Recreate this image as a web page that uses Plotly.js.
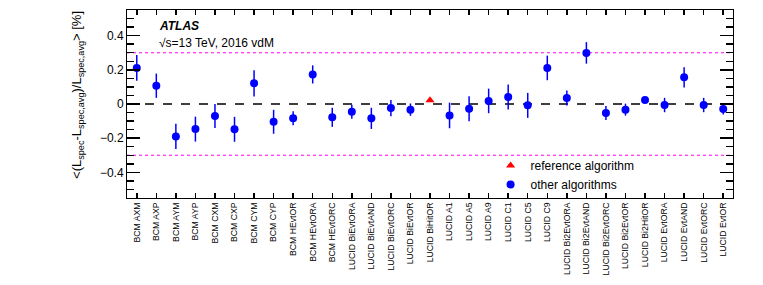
<!DOCTYPE html>
<html>
<head>
<meta charset="utf-8">
<script src="https://cdn.plot.ly/plotly-3.0.1.min.js"></script>
<style>html,body{margin:0;padding:0;background:#fff;}#chart{width:763px;height:285px;}</style>
</head>
<body>
<div id="chart"></div>
<script>
const categories = ["BCM AXM","BCM AXP","BCM AYM","BCM AYP","BCM CXM","BCM CXP","BCM CYM","BCM CYP",
  "BCM HEvtOR","BCM HEvtORA","BCM HEvtORC","LUCID BiEvtORA","LUCID BiEvtAND","LUCID BiEvtORC","LUCID BiEvtOR",
  "LUCID BiHitOR","LUCID A1","LUCID A5","LUCID A9","LUCID C1","LUCID C5","LUCID C9",
  "LUCID Bi2EvtORA","LUCID Bi2EvtAND","LUCID Bi2EvtORC","LUCID Bi2EvtOR","LUCID Bi2HitOR",
  "LUCID EvtORA","LUCID EvtAND","LUCID EvtORC","LUCID EvtOR"];
const values = [0.211,0.107,-0.190,-0.147,-0.070,-0.148,0.121,-0.104,
  -0.084,0.173,-0.078,-0.045,-0.084,-0.024,-0.033,
  0.022,-0.067,-0.028,0.018,0.041,-0.008,0.211,
  0.035,0.299,-0.053,-0.033,0.023,
  -0.006,0.156,-0.006,-0.029];
const errors = [0.075,0.071,0.074,0.073,0.070,0.073,0.077,0.070,
  0.041,0.053,0.056,0.041,0.062,0.047,0.036,
  0,0.075,0.073,0.072,0.073,0.073,0.072,
  0.044,0.063,0.041,0.035,0.018,
  0.042,0.059,0.042,0.033];
const referenceAlgorithm = "LUCID BiHitOR";
const yTickVals = [-0.4,-0.2,0,0.2,0.4];
const yTickText = ["\u22120.4","\u22120.2","0","0.2","0.4"];
const bandLevel = 0.3;

const otherX = [], otherY = [], otherE = [], refX = [], refY = [];
categories.forEach((c,i)=>{
  if (c === referenceAlgorithm) { refX.push(c); refY.push(values[i]); }
  else { otherX.push(c); otherY.push(values[i]); otherE.push(errors[i]); }
});

const FONT = "Liberation Sans, Arial, Helvetica, sans-serif";
const xLo = -0.5, xHi = categories.length - 0.5;

const traces = [
  {type:'scatter', mode:'markers', name:'reference algorithm', x:refX, y:refY,
   marker:{symbol:'triangle-up', color:'#ff0000', size:8}, cliponaxis:false},
  {type:'scatter', mode:'markers', name:'other algorithms', x:otherX, y:otherY,
   error_y:{type:'data', array:otherE, visible:true, color:'#0000ff', thickness:1.5, width:0},
   marker:{symbol:'circle', color:'#0000ff', size:8}}
];

const layout = {
  width:763, height:285,
  margin:{l:127, r:30, t:10, b:87},
  font:{family:FONT, color:'#000', size:12},
  showlegend:true,
  legend:{x:0.6, y:0.25, xanchor:'left', yanchor:'top', bgcolor:'rgba(0,0,0,0)',
          font:{family:FONT, size:12}, tracegroupgap:0, itemwidth:30},
  xaxis:{type:'category', categoryorder:'array', categoryarray:categories,
         range:[xLo, xHi], showline:true, linecolor:'#000', linewidth:1,
         mirror:'ticks', ticks:'inside', ticklen:5, tickcolor:'#000', tickwidth:1.5, tickangle:-90,
         tickfont:{family:FONT, size:8.7}, showgrid:false, zeroline:false, layer:'above traces'},
  yaxis:{range:[-0.55,0.55], tickvals:yTickVals, ticktext:yTickText,
         showline:true, linecolor:'#000', linewidth:1, mirror:'allticks',
         ticks:'inside', ticklen:13, tickcolor:'#000', tickwidth:1.5,
         minor:{dtick:0.05, tick0:0, ticks:'inside', ticklen:7, tickcolor:'#000', tickwidth:1.5, showgrid:false},
         tickfont:{family:FONT, size:12}, showgrid:false, zeroline:false, layer:'above traces'},
  shapes:[
    {type:'line', xref:'x', x0:xLo, x1:xHi, yref:'y', y0:0, y1:0, line:{color:'#000', width:1.5, dash:'dash'}, layer:'below'},
    {type:'line', xref:'x', x0:xLo, x1:xHi, yref:'y', y0:bandLevel, y1:bandLevel, line:{color:'#ff00ff', width:1.2, dash:'dot'}, layer:'below'},
    {type:'line', xref:'x', x0:xLo, x1:xHi, yref:'y', y0:-bandLevel, y1:-bandLevel, line:{color:'#ff00ff', width:1.2, dash:'dot'}, layer:'below'}
  ],
  annotations:[
    {xref:'paper', yref:'paper', x:0.05, y:0.867, xanchor:'left', yanchor:'bottom', showarrow:false,
     text:'<b><i>ATLAS</i></b>', font:{family:FONT, size:12}},
    {xref:'paper', yref:'paper', x:0.05, y:0.875, xanchor:'left', yanchor:'top', showarrow:false,
     text:'√s=13 TeV, 2016 vdM', font:{family:FONT, size:12}},
    {xref:'paper', yref:'paper', x:-0.081, y:0.548, xanchor:'center', yanchor:'middle', showarrow:false,
     textangle:-90,
     text:'&lt;(L<sub>spec</sub>-L<sub>spec,avg</sub>)/L<sub>spec,avg</sub>&gt; [%]', font:{family:FONT, size:13}}
  ]
};

Plotly.newPlot('chart', traces, layout, {staticPlot:true, displayModeBar:false});
</script>
</body>
</html>
